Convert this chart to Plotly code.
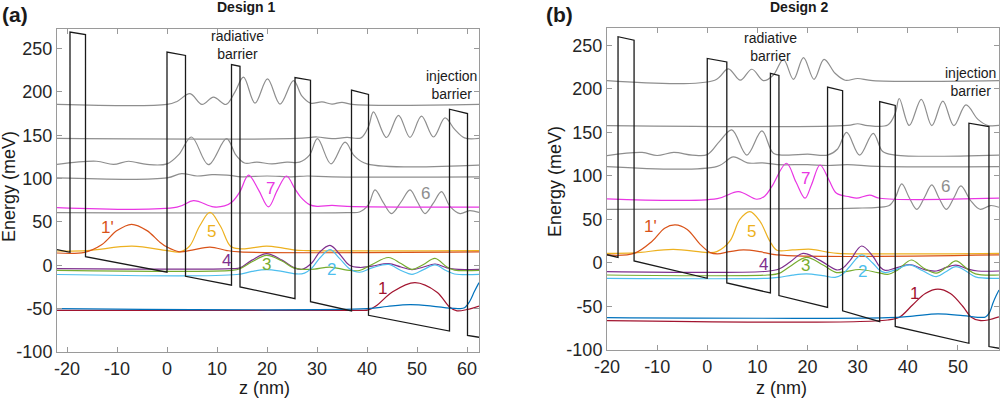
import plotly.graph_objects as go

# ================= Design 1 (panel a) : (z [nm], E [meV]) =================
A_POTENTIAL = [(-22, 18), (-19.4, 15), (-19.4, 269), (-16.3, 266), (-16.3, 10), (0, -8),
               (0, 246), (3.7, 242), (3.7, -12.7), (12.9, -23), (12.9, 231.5), (14.6, 229.5),
               (14.6, -25), (25.6, -38.5), (25.6, 216.5), (28.7, 213.5), (28.7, -42), (36.9, -52.7),
               (36.9, 202), (40.3, 197), (40.3, -57.7), (56.5, -75.8), (56.5, 180), (60.1, 175),
               (60.1, -80.8), (62.4, -83)]
A_GRAY_1 = [(-22, 185.5), (0, 185.5), (2, 189), (4.6, 198), (7, 185.5), (9.3, 194), (11.8, 185.5),
            (13.6, 200), (15.3, 217), (17.6, 187), (20.1, 215), (22.6, 186), (25.3, 213), (27, 195),
            (28.7, 187), (31, 188.5), (33, 186), (35, 188), (37, 185.5), (62.4, 185.5)]
A_GRAY_2 = [(-22, 146.3), (26, 146.3), (30, 148), (33, 146), (36, 147.5), (38.8, 147), (40.3, 160),
            (41.3, 177), (43.9, 147.4), (46.3, 173), (48.6, 147.5), (50.9, 172), (53.3, 148),
            (55.6, 170), (57.5, 157), (59.5, 147), (62.4, 146.5)]
A_GRAY_3 = [(-22, 116.3), (-14.1, 120), (-10.7, 116.3), (-7.7, 120), (-4, 116.3), (0, 117),
            (2.4, 128), (4.9, 148), (8.3, 116), (11.9, 146), (13.8, 127), (15.5, 118), (18, 119),
            (21, 117), (24, 119), (26.5, 119), (28.5, 127), (30.1, 146), (32.8, 117), (35.6, 142),
            (37.5, 126), (40, 117), (62.4, 115.5)]
A_GRAY_4 = [(-22, 100.8), (0, 100.8), (2.9, 105.8), (6, 103), (9, 104.5), (12, 104), (15, 102),
            (20, 103), (25, 102), (28, 103), (33, 102), (62.4, 102)]
A_STATE_6 = [(-22, 60.8), (36, 60.8), (38.5, 61.5), (40.3, 70), (41.6, 87), (43.3, 72), (44.9, 59.7),
             (46.8, 73), (48.6, 87), (50.1, 73), (51.6, 59.7), (53.3, 72), (54.9, 85), (56.6, 68),
             (58.6, 59.7), (60.5, 63), (62.4, 61)]
A_STATE_7 = [(-22, 66.6), (2, 67), (5.3, 74.5), (9.3, 67.4), (11.5, 68.5), (13, 73), (14.6, 85),
             (16.3, 104), (18.3, 87), (20.3, 67.4), (22.1, 87), (23.9, 103), (25.6, 88), (26.7, 79),
             (28.5, 70), (30, 68), (33, 69), (36, 68), (62.4, 67)]
A_STATE_5 = [(-22, 16.5), (-16, 17), (-7, 22), (0, 17), (2.5, 15.5), (4.5, 22), (6.5, 45), (8.6, 61),
             (10.7, 45), (12.7, 22), (14.6, 19), (17, 20), (19.9, 22), (23, 20), (25.6, 17.5),
             (28, 17), (62.4, 17)]
A_STATE_1P = [(-22, 14.2), (-16.5, 15), (-13, 24), (-10, 40), (-7.1, 47.3), (-4, 40), (-1.5, 27),
              (0, 21), (2.5, 15.5), (5, 17.5), (8.6, 21), (12, 17), (14.6, 15.4), (62.4, 15.4)]
A_STATE_4 = [(-22, -3.9), (13, -3.9), (14.6, -3), (17, 6), (19.9, 13.5), (23, 6), (25.5, -3),
             (27, -4.6), (29, 3), (30.5, 15), (32.6, 23), (34.5, 13), (36.5, 0), (38.5, -2.5),
             (41, -1), (44.3, 2), (46.8, -2), (49, -5), (51.3, -2), (53.6, 1.5), (56, -3),
             (57.5, -4.5), (62.4, -4.6)]
A_STATE_3 = [(-22, -5.8), (13, -5.8), (14.6, -4), (17, 4), (19.9, 11.5), (23, 5), (25.3, -3),
             (27, -4.6), (29.5, -4.3), (32.6, -2), (36, -5.5), (38.5, -6), (41, 1), (44.3, 9),
             (46.8, 2), (49, -4.6), (51.3, 1), (53.6, 8), (56, -2), (57.5, -5.5), (62.4, -5.8)]
A_STATE_2 = [(-22, -10.6), (14, -10.6), (17, -7), (19.9, -5), (23, -7), (26, -10), (27.5, -9),
             (29, -3), (30.5, 8), (32.6, 18), (34.5, 8), (36.5, -4), (38.5, -8), (41, -3),
             (44.3, 1), (46.8, -6), (49, -10.4), (51.3, -5), (53.6, 0.5), (55.8, -6), (57.5, -10),
             (62.4, -10.5)]
A_STATE_1 = [(-22, -52), (38, -52), (40.3, -51.5), (42, -46), (45, -31), (49.6, -20), (54, -31),
             (56.5, -48), (58, -52.5), (60, -51), (62.4, -47)]
A_STATE_0 = [(-22, -50), (40, -50), (44, -47.5), (48.6, -45.4), (53, -47), (56.5, -49.5),
             (58.5, -50), (59.5, -49), (60.5, -42), (61.5, -30), (62.4, -20)]

# ================= Design 2 (panel b) =================
B_POTENTIAL = [(-20, 9.5), (-17.8, 6.5), (-17.8, 260), (-14.6, 256), (-14.6, 2.3), (0, -17.6),
               (0, 235), (3.9, 231), (3.9, -23), (12.6, -34.5), (12.6, 218), (14.3, 215.5),
               (14.3, -37.5), (24, -51), (24, 202), (27, 198), (27, -55), (34.4, -67.4),
               (34.4, 185.5), (37.5, 181), (37.5, -73), (52.2, -92.3), (52.2, 160.6),
               (56.2, 156.7), (56.2, -96), (58.2, -98)]
B_GRAY_1 = [(-20, 209.5), (1.5, 210), (4.2, 223), (6.6, 210), (8.9, 222.6), (11.2, 209.5),
            (13.2, 216), (15.2, 234), (17.2, 211), (19.2, 236), (21.3, 211), (23.3, 234),
            (25.5, 218), (27.5, 210), (30, 212), (33, 209.5), (58.2, 209.5)]
B_GRAY_2 = [(-20, 157.8), (28, 158), (30, 160), (32, 157.8), (36, 158.5), (37.5, 172), (38.3, 189),
            (40.3, 158), (42.7, 188), (44.8, 157.8), (47, 186), (49.2, 157.8), (51.6, 181.6),
            (54, 165), (56, 158), (58.2, 158)]
B_GRAY_3 = [(-20, 123.3), (-13, 127), (-10, 123.5), (-6.7, 127), (-3, 124), (0, 124.5), (2.5, 140),
            (4.9, 153), (7.9, 124), (10.9, 151.7), (13.2, 126), (16, 124), (20, 125), (24, 124),
            (26, 131), (27.8, 150), (30.4, 124), (33.1, 149), (35, 128), (37.5, 124), (58.2, 124)]
B_GRAY_4 = [(-20, 110.7), (2, 111), (5.2, 122), (8, 115), (11, 115), (14, 113), (20, 113),
            (24, 112), (28, 113), (34, 111), (58.2, 110.7)]
B_STATE_6 = [(-20, 61.7), (26, 62.5), (30, 63), (34, 64), (36.3, 66), (37.5, 75), (38.8, 90.8),
             (40.3, 75), (41.8, 61.7), (43.3, 75), (44.8, 89.7), (46.2, 75), (47.7, 61.7), (49.2, 75),
             (50.6, 88.5), (52.5, 72), (54.4, 61.7), (56.5, 66), (58.2, 64)]
B_STATE_7 = [(-20, 73.6), (2, 74), (6.2, 82), (9.9, 73.2), (11.5, 77), (12.9, 88), (15.8, 114.6),
             (17.7, 93), (19.5, 74.4), (20.8, 90), (22.5, 112.6), (24.3, 95), (25.8, 80), (28.4, 76),
             (29.8, 74.4), (32.4, 78), (34.4, 74.4), (58.2, 74.4)]
B_STATE_5 = [(-20, 11.1), (-14.6, 11.5), (-6.8, 15.7), (0, 12), (1.9, 13), (4.5, 25), (6.5, 50),
             (8.5, 59), (10.5, 48), (12.5, 25), (13.9, 14.6), (17, 15), (20.8, 15.7), (24, 12.5),
             (26, 11.1), (58.2, 11.1)]
B_STATE_1P = [(-20, 9.2), (-14.6, 11), (-11, 25), (-8.5, 40), (-6.4, 43.7), (-4, 38.5), (-1.5, 22),
              (0.6, 11.9), (2, 10.5), (4.5, 13), (7.2, 15), (10.5, 13), (13.9, 9.2), (58.2, 9.2)]
B_STATE_4 = [(-20, -10), (12, -9.5), (14.3, -7), (16.5, 1), (19.1, 11.1), (22.5, 3), (25.8, -8),
             (27, -6), (28.5, 3), (30.8, 19.5), (33, 8), (34.4, -4.3), (35.5, -8.5), (37.5, -6),
             (40.4, -2), (43.5, -8), (45.7, -9.2), (47.7, -5), (49.6, -2.5), (52, -7), (54, -9.2),
             (58.2, -9.2)]
B_STATE_3 = [(-20, -13.8), (12, -13.8), (14.3, -12), (16.5, -4), (19.8, 6.5), (23, -2), (25.8, -11),
             (27.5, -10), (30.4, -7.5), (34, -11), (36, -13), (38, -8), (40.7, 3.4), (43.2, -6),
             (45.7, -11.7), (47.7, -5), (49.6, 2.3), (51.7, -6), (53.5, -12.5), (58.2, -13.8)]
B_STATE_2 = [(-20, -17.6), (12, -17.6), (14.3, -16.5), (17, -14), (19.8, -12.6), (23, -14.5),
             (25.5, -16.5), (27, -13), (28.4, -4.3), (30.8, 9.2), (33, 0), (34.4, -8.5),
             (35.5, -11), (37.5, -8), (40.4, -2.3), (43, -9), (45.7, -15.7), (47.6, -10),
             (49.6, -4.3), (51.8, -10), (53.5, -16), (58.2, -17.6)]
B_STATE_1 = [(-20, -66.3), (36, -65.5), (38.4, -62), (41, -48), (43.5, -35), (46, -30), (48.5, -35),
             (51, -50), (52.6, -62), (54.3, -66), (56, -65.5), (58.2, -62)]
B_STATE_0 = [(-20, -62.8), (36, -62.8), (41, -61), (46, -58.6), (51, -60.5), (54.8, -62.6),
             (55.5, -62), (56.3, -57), (57, -46), (57.6, -38), (58.2, -31)]

# state labels: (text, z, E, colour key)
A_LABELS = [("1'", -12, 44, "orange"), ("5", 8.9, 39, "yellow"), ("4", 11.8, 5, "purple"),
            ("3", 19.8, 1.5, "green"), ("2", 32.9, -4.6, "cyan"), ("1", 43.1, -27, "red"),
            ("7", 20.6, 88.5, "magenta"), ("6", 51.6, 83, "gray")]
B_LABELS = [("1'", -11.3, 41.7, "orange"), ("5", 8.9, 36, "yellow"), ("4", 11.2, -1.5, "purple"),
            ("3", 19.5, -3.4, "green"), ("2", 31, -10, "cyan"), ("1", 41.4, -34.8, "red"),
            ("7", 19.5, 97.4, "magenta"), ("6", 47.6, 88, "gray")]

X_TICKS_A = [-20, -10, 0, 10, 20, 30, 40, 50, 60]
X_TICKS_B = [-20, -10, 0, 10, 20, 30, 40, 50]
Y_TICKS = [-100, -50, 0, 50, 100, 150, 200, 250]

COL = {"blue": "#0072BD", "orange": "#D95319", "yellow": "#EDB120", "purple": "#7E2F8E",
       "green": "#77AC30", "cyan": "#4DBEEE", "red": "#A2142F", "magenta": "#E936E3",
       "gray": "#8E8E8E", "black": "#1a1a1a"}

FONT = "Liberation Sans, Arial, sans-serif"
W, H = 1000, 398

fig = go.Figure()


def add_curve(pts, color, xa, ya, width=1.2, spline=True):
    fig.add_trace(go.Scatter(
        x=[p[0] for p in pts], y=[p[1] for p in pts], mode="lines",
        line=dict(color=color, width=width, shape="spline" if spline else "linear", smoothing=1.0),
        xaxis=xa, yaxis=ya, showlegend=False, hoverinfo="skip"))


for data, xa, ya in [
    (dict(g=[A_GRAY_1, A_GRAY_2, A_GRAY_3, A_GRAY_4, A_STATE_6],
          c=[(A_STATE_7, "magenta"), (A_STATE_5, "yellow"), (A_STATE_1P, "orange"),
             (A_STATE_4, "purple"), (A_STATE_3, "green"), (A_STATE_2, "cyan"),
             (A_STATE_1, "red"), (A_STATE_0, "blue")], p=A_POTENTIAL), "x", "y"),
    (dict(g=[B_GRAY_1, B_GRAY_2, B_GRAY_3, B_GRAY_4, B_STATE_6],
          c=[(B_STATE_7, "magenta"), (B_STATE_5, "yellow"), (B_STATE_1P, "orange"),
             (B_STATE_4, "purple"), (B_STATE_3, "green"), (B_STATE_2, "cyan"),
             (B_STATE_1, "red"), (B_STATE_0, "blue")], p=B_POTENTIAL), "x2", "y2")]:
    for g in data["g"]:
        add_curve(g, COL["gray"], xa, ya)
    for pts, key in data["c"]:
        add_curve(pts, COL[key], xa, ya)
    add_curve(data["p"], COL["black"], xa, ya, width=1.3, spline=False)

annotations = []
for labels, xa, ya in [(A_LABELS, "x", "y"), (B_LABELS, "x2", "y2")]:
    for txt, z, e, key in labels:
        annotations.append(dict(text=txt, x=z, y=e, xref=xa, yref=ya, showarrow=False,
                                font=dict(family=FONT, size=17, color=COL[key])))


def px(xp, yp):
    return xp / W, 1 - yp / H


def paper_text(txt, xp, yp, size, bold=False, angle=0, color="#1a1a1a"):
    x, y = px(xp, yp)
    annotations.append(dict(text=f"<b>{txt}</b>" if bold else txt, x=x, y=y, xref="paper",
                            yref="paper", showarrow=False, textangle=angle,
                            xanchor="center", yanchor="middle",
                            font=dict(family=FONT, size=size, color=color)))


paper_text("(a)", 15, 14, 21, bold=True)
paper_text("(b)", 559, 14, 21, bold=True)
paper_text("Design 1", 246, 7, 14, bold=True)
paper_text("Design 2", 799, 7, 14, bold=True)
paper_text("radiative<br>barrier", 237, 45, 14)
paper_text("injection<br>barrier", 451, 85, 14)
paper_text("radiative<br>barrier", 770, 47, 14)
paper_text("injection<br>barrier", 970, 82, 14)
paper_text("Energy (meV)", 9, 187, 18, angle=-90)
paper_text("Energy (meV)", 555, 182, 18, angle=-90)
paper_text("z (nm)", 264, 388, 18)
paper_text("z (nm)", 781, 388, 18)

axis_common = dict(showline=True, linecolor="#9a9a9a", linewidth=1, mirror="ticks",
                   ticks="inside", ticklen=5, tickcolor="#9a9a9a", showgrid=False,
                   zeroline=False, automargin=False,
                   tickfont=dict(family=FONT, size=18, color="#262626"))


def tick_text(vals):
    return [str(v) for v in vals]


fig.update_layout(
    width=W, height=H, margin=dict(l=0, r=0, t=0, b=0, pad=0, autoexpand=False),
    paper_bgcolor="white", plot_bgcolor="white", showlegend=False,
    annotations=annotations,
    xaxis=dict(domain=[0.057, 0.479], range=[-22, 62.4], tickvals=X_TICKS_A,
               ticktext=tick_text(X_TICKS_A), anchor="y", **axis_common),
    yaxis=dict(domain=[1 - 352 / H, 1 - 28.6 / H], range=[-100, 273], tickvals=Y_TICKS,
               ticktext=tick_text(Y_TICKS), anchor="x", **axis_common),
    xaxis2=dict(domain=[0.607, 0.999], range=[-20, 58.2], tickvals=X_TICKS_B,
                ticktext=tick_text(X_TICKS_B), anchor="y2", **axis_common),
    yaxis2=dict(domain=[1 - 350 / H, 1 - 28 / H], range=[-100, 270], tickvals=Y_TICKS,
                ticktext=tick_text(Y_TICKS), anchor="x2", **axis_common),
)

fig.write_html("out.html", config={"displayModeBar": False},
               post_script="document.body.style.margin='0';document.body.style.overflow='hidden';")
